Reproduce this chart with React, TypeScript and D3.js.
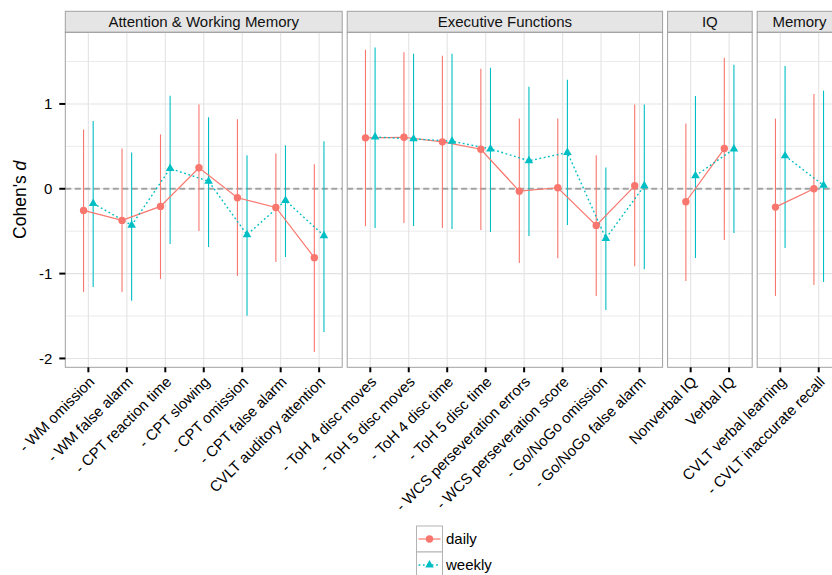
import React from "react";
import * as d3 from "d3";

const panels = ["Attention & Working Memory", "Executive Functions", "IQ", "Memory"];

const categories = [
  "- WM omission", "- WM false alarm", "- CPT reaction time", "- CPT slowing",
  "- CPT omission", "- CPT false alarm", "CVLT auditory attention",
  "- ToH 4 disc moves", "- ToH 5 disc moves", "- ToH 4 disc time", "- ToH 5 disc time",
  "- WCS perseveration errors", "- WCS perseveration score", "- Go/NoGo omission", "- Go/NoGo false alarm",
  "Nonverbal IQ", "Verbal IQ",
  "CVLT verbal learning", "- CVLT inaccurate recall",
];
const categoryPanel = [0, 0, 0, 0, 0, 0, 0, 1, 1, 1, 1, 1, 1, 1, 1, 2, 2, 3, 3];

const dailyEst = [-0.255, -0.373, -0.208, 0.247, -0.106, -0.22, -0.812, 0.6, 0.607, 0.553, 0.466, -0.028, 0.012, -0.432, 0.035, -0.153, 0.474, -0.216, 0.0];
const dailyLo = [-1.216, -1.216, -1.063, -0.498, -1.028, -0.863, -1.925, -0.44, -0.404, -0.463, -0.487, -0.875, -0.82, -1.263, -0.914, -1.087, -0.605, -1.263, -1.134];
const dailyHi = [0.7, 0.474, 0.642, 0.992, 0.819, 0.415, 0.29, 1.639, 1.608, 1.568, 1.415, 0.827, 0.827, 0.396, 0.992, 0.768, 1.545, 0.827, 1.117];

const weeklyEst = [-0.173, -0.43, 0.239, 0.089, -0.542, -0.138, -0.553, 0.61, 0.588, 0.56, 0.47, 0.33, 0.427, -0.585, 0.035, 0.153, 0.47, 0.388, 0.04];
const weeklyLo = [-1.157, -1.32, -0.651, -0.687, -1.498, -0.804, -1.687, -0.463, -0.44, -0.475, -0.51, -0.557, -0.428, -1.428, -0.949, -0.816, -0.522, -0.698, -1.098];
const weeklyHi = [0.8, 0.427, 1.098, 0.843, 0.396, 0.513, 0.56, 1.665, 1.592, 1.592, 1.427, 1.204, 1.286, 0.251, 0.992, 1.094, 1.462, 1.447, 1.156];

const yTicks = [-2, -1, 0, 1];
const yMinor = [-1.5, -0.5, 0.5, 1.5];

const seriesNames = ["daily", "weekly"];
const seriesColors = ["#F8766D", "#00BFC4"];

const W = 832;
const H = 575;
const FONT = "'Liberation Sans', Arial, Helvetica, sans-serif";

export default function App() {
  const plotLeft = 65.3;
  const plotTop = 32.3;
  const plotBottom = 367.3;
  const stripTop = 11.3;
  const gap = 5;
  const unit = 38.46;
  const dodge = 0.125 * unit;
  const fs = 15;

  const allVals = [...dailyLo, ...dailyHi, ...weeklyLo, ...weeklyHi];
  const lo = d3.min(allVals)!;
  const hi = d3.max(allVals)!;
  const pad = (hi - lo) * 0.05;
  const y = d3.scaleLinear().domain([lo - pad, hi + pad]).range([plotBottom, plotTop]);

  let cursor = plotLeft;
  const panelInfo = panels.map((name, p) => {
    const cats = categories.filter((_, i) => categoryPanel[i] === p);
    const width = (cats.length + 0.2) * unit;
    const left = cursor;
    cursor += width + gap;
    const x = d3.scalePoint<string>().domain(cats).range([left, left + width]).padding(0.6);
    return { name, cats, left, width, x };
  });

  const estArr = [dailyEst, weeklyEst];
  const loArr = [dailyLo, weeklyLo];
  const hiArr = [dailyHi, weeklyHi];

  const line = d3.line<[number, number]>().x((d) => d[0]).y((d) => d[1]);
  const tri = d3.symbol().type(d3.symbolTriangle).size(32)()!;

  return (
    <div style={{ position: "absolute", left: 0, top: 0 }}>
      <svg width={W} height={H} style={{ display: "block", background: "#fff" }} fontFamily={FONT}>
        <rect x={0} y={0} width={W} height={H} fill="#fff" />
        {panelInfo.map((pi, p) => {
          const idxs = categories.map((_, i) => i).filter((i) => categoryPanel[i] === p);
          return (
            <g key={pi.name}>
              <rect x={pi.left} y={stripTop} width={pi.width} height={plotTop - stripTop}
                fill="#E5E5E5" stroke="#A0A0A0" strokeWidth={1} />
              <text x={pi.left + pi.width / 2} y={(stripTop + plotTop) / 2 + 5.3} textAnchor="middle"
                fontSize={fs} fill="#111">{pi.name}</text>
              {yMinor.map((v) => (
                <line key={"mn" + v} x1={pi.left} x2={pi.left + pi.width} y1={y(v)} y2={y(v)}
                  stroke="#EBEBEB" strokeWidth={1} />
              ))}
              {yTicks.map((v) => (
                <line key={"mj" + v} x1={pi.left} x2={pi.left + pi.width} y1={y(v)} y2={y(v)}
                  stroke="#E3E3E3" strokeWidth={1.1} />
              ))}
              {pi.cats.map((c) => (
                <line key={"vg" + c} x1={pi.x(c)!} x2={pi.x(c)!} y1={plotTop} y2={plotBottom}
                  stroke="#E3E3E3" strokeWidth={1.1} />
              ))}
              <line x1={pi.left} x2={pi.left + pi.width} y1={y(0)} y2={y(0)}
                stroke="#A3A3A3" strokeWidth={2} strokeDasharray="6,3.5" />
              {[0, 1].map((s) => idxs.map((i) => {
                const cx = pi.x(categories[i])! + (s === 0 ? -dodge : dodge);
                return (
                  <line key={"eb" + s + "-" + i} x1={cx} x2={cx} y1={y(loArr[s][i])} y2={y(hiArr[s][i])}
                    stroke={seriesColors[s]} strokeWidth={1.1} />
                );
              }))}
              {[0, 1].map((s) => {
                const pts: [number, number][] = idxs.map((i) => [
                  pi.x(categories[i])! + (s === 0 ? -dodge : dodge), y(estArr[s][i]),
                ]);
                return (
                  <path key={"ln" + s} d={line(pts)!} fill="none" stroke={seriesColors[s]}
                    strokeWidth={s === 0 ? 1.2 : 1.4} strokeDasharray={s === 0 ? undefined : "1.8,2.6"} />
                );
              })}
              {idxs.map((i) => (
                <circle key={"pd" + i} cx={pi.x(categories[i])! - dodge} cy={y(dailyEst[i])} r={3.7}
                  fill={seriesColors[0]} />
              ))}
              {idxs.map((i) => (
                <path key={"pw" + i} d={tri}
                  transform={`translate(${pi.x(categories[i])! + dodge},${y(weeklyEst[i])})`}
                  fill={seriesColors[1]} />
              ))}
              <rect x={pi.left} y={plotTop} width={pi.width} height={plotBottom - plotTop}
                fill="none" stroke="#A0A0A0" strokeWidth={1} />
              {pi.cats.map((c) => (
                <g key={"xt" + c}>
                  <line x1={pi.x(c)!} x2={pi.x(c)!} y1={plotBottom} y2={plotBottom + 5}
                    stroke="#000" strokeWidth={2} />
                  <text transform={`translate(${pi.x(c)! + 7},${plotBottom + 15.5}) rotate(-45)`}
                    textAnchor="end" fontSize={fs} fill="#000">{c}</text>
                </g>
              ))}
            </g>
          );
        })}
        {yTicks.map((v) => (
          <g key={"yt" + v}>
            <line x1={plotLeft - 6} x2={plotLeft} y1={y(v)} y2={y(v)} stroke="#000" strokeWidth={2} />
            <text x={plotLeft - 13} y={y(v) + 5.3} textAnchor="end" fontSize={fs} fill="#000">{v}</text>
          </g>
        ))}
        <text transform={`translate(${26},${(plotTop + plotBottom) / 2}) rotate(-90)`} textAnchor="middle"
          fontSize={17.5} fill="#000">
          Cohen's <tspan fontStyle="italic">d</tspan>
        </text>
        {seriesNames.map((name, s) => {
          const kx = 416.5;
          const ky = 526 + s * 26;
          return (
            <g key={"lg" + name}>
              <rect x={kx} y={ky} width={26} height={26} fill="#fff" stroke="#B3B3B3" strokeWidth={1} />
              <line x1={kx + 2} x2={kx + 24} y1={ky + 13} y2={ky + 13} stroke={seriesColors[s]}
                strokeWidth={s === 0 ? 1.2 : 1.4} strokeDasharray={s === 0 ? undefined : "1.8,2.6"} />
              {s === 0 ? (
                <circle cx={kx + 13} cy={ky + 13} r={3.7} fill={seriesColors[0]} />
              ) : (
                <path d={tri} transform={`translate(${kx + 13},${ky + 13})`} fill={seriesColors[1]} />
              )}
              <text x={kx + 29.5} y={ky + 13 + 5.3} fontSize={fs} fill="#000">{name}</text>
            </g>
          );
        })}
      </svg>
    </div>
  );
}
